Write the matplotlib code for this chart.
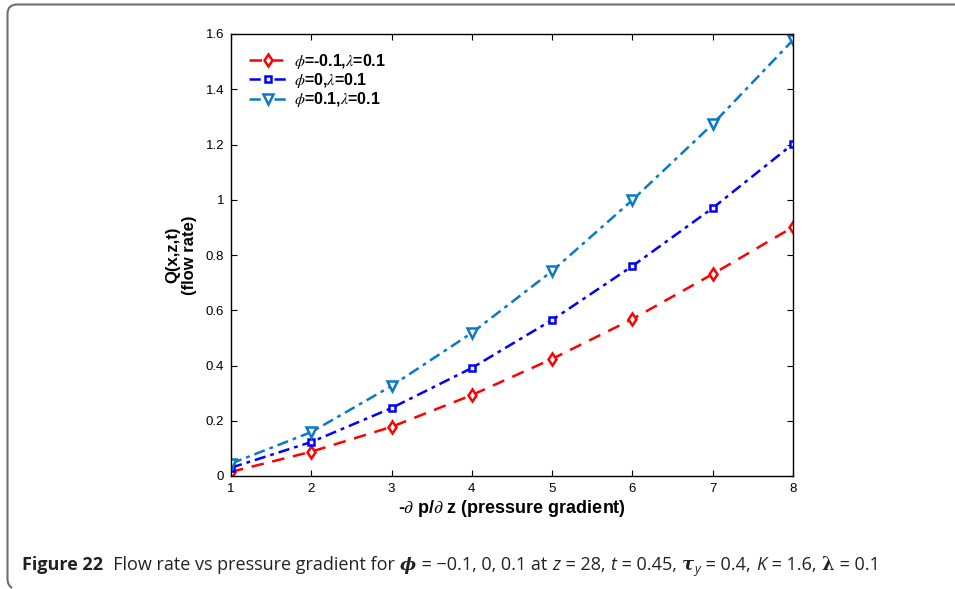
import matplotlib
matplotlib.use("Agg")
import matplotlib.pyplot as plt
from matplotlib.path import Path
from matplotlib.patches import PathPatch
from matplotlib.transforms import Affine2D

x = [1, 2, 3, 4, 5, 6, 7, 8]
q_neg = [0.015, 0.088, 0.178, 0.293, 0.424, 0.568, 0.731, 0.901]
q_zero = [0.030, 0.123, 0.246, 0.391, 0.565, 0.760, 0.970, 1.202]
q_pos = [0.045, 0.159, 0.326, 0.518, 0.742, 0.999, 1.274, 1.578]
labels = [r"$\phi$=-0.1,$\lambda$=0.1", r"$\phi$=0,$\lambda$=0.1", r"$\phi$=0.1,$\lambda$=0.1"]
xticklabels = ['1', '2', '3', '4', '5', '6', '7', '8']
yticks = [0, 0.2, 0.4, 0.6, 0.8, 1.0, 1.2, 1.4, 1.6]
yticklabels = ['0', '0.2', '0.4', '0.6', '0.8', '1', '1.2', '1.4', '1.6']

plt.rcParams['font.family'] = ['Liberation Sans', 'DejaVu Sans']
plt.rcParams['mathtext.fontset'] = 'stix'

W, H = 955, 589
fig = plt.figure(figsize=(W / 100, H / 100), dpi=100)

# rounded border (top and left)
verts = [(W + 5, H - 4.5), (17, H - 4.5), (7.5, H - 4.5), (7.5, H - 14), (7.5, 10), (7.5, 4), (12, 1)]
codes = [Path.MOVETO, Path.LINETO, Path.CURVE3, Path.CURVE3, Path.LINETO, Path.CURVE3, Path.CURVE3]
pix2fig = Affine2D().scale(1 / W, 1 / H)
border = PathPatch(Path(verts, codes), fill=False, edgecolor='#6f6f6f', lw=1.5,
                   transform=pix2fig + fig.transFigure)
fig.patches.append(border)

ax = fig.add_axes([231 / W, 1 - 476 / H, (793 - 231) / W, (476 - 34) / H])

ax.plot(x, q_neg, color='#ff0000', ls=(0, (5, 3.5)), lw=1.8, marker='d', ms=6.5,
        mfc='white', mec='#ff0000', mew=1.8, label=labels[0])
ax.plot(x, q_zero, color='#0000ff', ls=(0, (4.5, 2, 1.5, 2)), lw=1.8, marker='s', ms=5,
        mfc='white', mec='#0000ff', mew=1.8, label=labels[1])
ax.plot(x, q_pos, color='#0a7ac8', ls=(0, (4.5, 2, 1.5, 2)), lw=1.8, marker='v', ms=7,
        mfc='white', mec='#0a7ac8', mew=1.8, label=labels[2])

ax.set_xlim(1, 8)
ax.set_ylim(0, 1.6)
ax.set_xticks(x)
ax.set_xticklabels(xticklabels)
ax.set_yticks(yticks)
ax.set_yticklabels(yticklabels)
ax.tick_params(direction='in', top=True, right=True, labelsize=9.5, length=4, width=0.8, pad=5)
for s in ax.spines.values():
    s.set_linewidth(1.0)

ax.set_xlabel(r"-$\partial$ p/$\partial$ z (pressure gradient)", fontsize=13, fontweight='bold', labelpad=2)
ax.set_ylabel("Q(x,z,t)\n(flow rate)", fontsize=12, fontweight='bold', labelpad=6, linespacing=1.15)

leg = ax.legend(loc='upper left', frameon=False, prop={'weight': 'bold', 'size': 11.5},
                handlelength=2.4, labelspacing=0.02, borderaxespad=0.4, handletextpad=0.45,
                borderpad=0.7)

# caption
fig.canvas.draw()
renderer = fig.canvas.get_renderer()
fs = 13.0
fam = ['Open Sans', 'DejaVu Sans']
gfam = ['DejaVu Serif']
pieces = [
    ("Figure 22", dict(fontweight='bold', family=fam), 0, 1.0),
    ("  Flow rate vs pressure gradient for ", dict(family=fam), 0, 1.0),
    ("\u03d5", dict(family=gfam, fontweight='bold', fontstyle='italic'), 0, 0.95),
    (" = \u22120.1, 0, 0.1 at ", dict(family=fam), 0, 1.0),
    ("z", dict(family=fam, fontstyle='italic'), 0, 1.0),
    (" = 28, ", dict(family=fam), 0, 1.0),
    ("t", dict(family=fam, fontstyle='italic'), 0, 1.0),
    (" = 0.45, ", dict(family=fam), 0, 1.0),
    ("\u03c4", dict(family=gfam, fontweight='bold', fontstyle='italic'), 0, 1.0),
    ("y", dict(family=fam, fontstyle='italic'), -3, 0.7),
    (" = 0.4, ", dict(family=fam), 0, 1.0),
    ("K", dict(family=fam, fontstyle='italic'), 0, 1.0),
    (" = 1.6, ", dict(family=fam), 0, 1.0),
    ("\u03bb", dict(family=gfam, fontweight='bold'), 0, 1.0),
    (" = 0.1", dict(family=fam), 0, 1.0),
]
xpos = 22
ybase = H - 570
for txt, kw, dy, sc in pieces:
    t = fig.text(xpos / W, (ybase + dy) / H, txt, fontsize=fs * sc,
                 va='baseline', ha='left', color='#222222', **kw)
    bb = t.get_window_extent(renderer)
    xpos = bb.x1 + 0.6

fig.savefig("out.png", dpi=100)
